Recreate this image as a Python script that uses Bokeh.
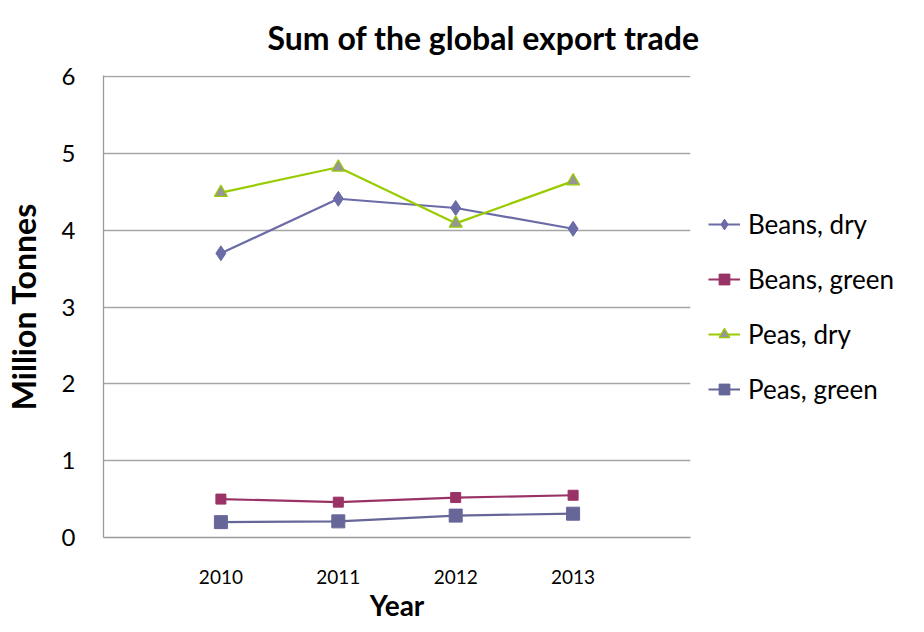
from bokeh.plotting import figure
from bokeh.models import Legend, LegendItem, FixedTicker, Range1d
from bokeh.embed import file_html
from bokeh.resources import INLINE

years = [2010, 2011, 2012, 2013]
beans_dry = [3.70, 4.41, 4.29, 4.02]
beans_green = [0.50, 0.46, 0.52, 0.55]
peas_dry = [4.49, 4.82, 4.09, 4.64]
peas_green = [0.20, 0.21, 0.285, 0.31]
series_names = ["Beans, dry", "Beans, green", "Peas, dry", "Peas, green"]
y_ticks = [0, 1, 2, 3, 4, 5, 6]

FONT = "Lato"

p = figure(frame_width=587, frame_height=462, output_backend="svg", toolbar_location=None,
           x_range=Range1d(2009, 2014), y_range=Range1d(0, 6.015),
           min_border_left=103, min_border_right=214, min_border_top=75, min_border_bottom=79)

p.title.text = "Sum of the global export trade"
p.title.text_font = FONT
p.title.text_font_size = "32px"
p.title.text_font_style = "bold"
p.title.text_color = "black"
p.title.align = "left"
p.title.vertical_align = "top"
p.title.offset = 164
p.title.standoff = 34

p.outline_line_color = None
p.xgrid.grid_line_color = None
p.ygrid.grid_line_color = "#a6a6a6"
p.ygrid.grid_line_width = 1.3

p.xaxis.ticker = FixedTicker(ticks=years)
p.yaxis.ticker = FixedTicker(ticks=y_ticks)
for ax in (p.xaxis[0], p.yaxis[0]):
    ax.axis_line_color = "#9a9a9a"
    ax.axis_line_width = 1.3
    ax.major_tick_line_color = None
    ax.minor_tick_line_color = None
    ax.major_label_text_font = FONT
    ax.axis_label_text_font = FONT
    ax.axis_label_text_font_style = "bold"
    ax.axis_label_text_color = "black"
    ax.major_label_text_color = "black"

p.xaxis.axis_label = "Year"
p.xaxis.axis_label_text_font_size = "28px"
p.xaxis.major_label_text_font_size = "19px"
p.xaxis.major_label_standoff = 26
p.xaxis.axis_label_standoff = 1

p.yaxis.axis_label = "Million Tonnes"
p.yaxis.axis_label_text_font_size = "32px"
p.yaxis.major_label_text_font_size = "24px"
p.yaxis.major_label_standoff = 22
p.yaxis.axis_label_standoff = 16

l1 = p.line(years, beans_dry, line_color="#6b6ba8", line_width=2.2)
m1 = p.scatter(years, beans_dry, marker="diamond", size=15, fill_color="#6b6ba8", line_color="#6b6ba8")
l2 = p.line(years, beans_green, line_color="#993366", line_width=2.2)
m2 = p.scatter(years, beans_green, marker="square", size=10, fill_color="#993366", line_color="#993366")
l3 = p.line(years, peas_dry, line_color="#99cc00", line_width=2.2)
m3 = p.scatter(years, peas_dry, marker="triangle", size=13, fill_color="#969696", line_color="#99cc00", line_width=1.2)
l4 = p.line(years, peas_green, line_color="#666699", line_width=2.2)
m4 = p.scatter(years, peas_green, marker="square", size=13, fill_color="#666699", line_color="#666699")

legend = Legend(items=[
    LegendItem(label=series_names[0], renderers=[l1, m1]),
    LegendItem(label=series_names[1], renderers=[l2, m2]),
    LegendItem(label=series_names[2], renderers=[l3, m3]),
    LegendItem(label=series_names[3], renderers=[l4, m4]),
], location="center_left")
legend.border_line_color = None
legend.background_fill_alpha = 0
legend.padding = 0
legend.margin = 18
legend.spacing = 23
legend.label_height = 27
legend.glyph_height = 27
legend.glyph_width = 32
legend.label_standoff = 8
legend.label_text_font = FONT
legend.label_text_font_size = "26px"
legend.label_text_color = "black"
p.add_layout(legend, "right")

open("out.html", "w").write(file_html(p, INLINE))
